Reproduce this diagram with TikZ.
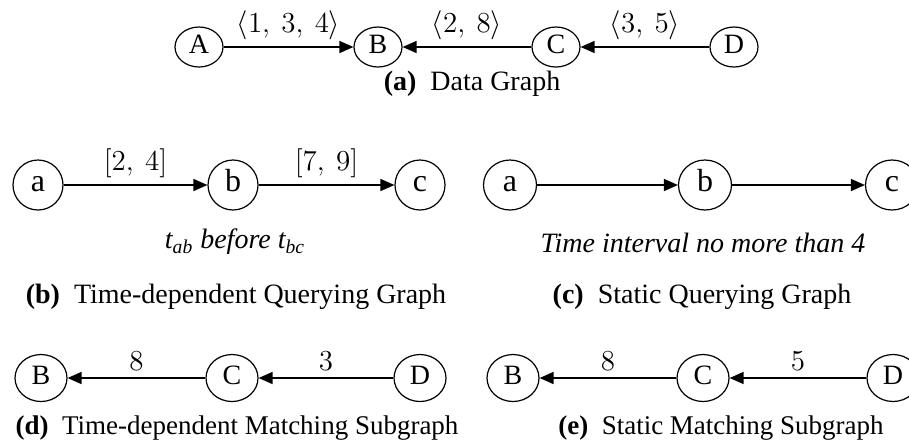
\RequirePackage{fix-cm}
\documentclass[tikz,border=0pt]{standalone}
\usepackage{fontspec}
\setmainfont{Liberation Serif}
\usepackage{tikz}
\usetikzlibrary{shapes.geometric, arrows.meta}

\tikzset{
    vert/.style={ellipse, draw, line width=0.6pt, inner sep=0pt, text height=0.68em, text depth=0pt},
    edge/.style={-{Triangle[length=7pt, width=6pt]}, line width=0.75pt},
    wt/.style={midway, above, font=\fontsize{14.5}{16}\selectfont},
    subcap/.style={font=\fontsize{14}{16}\selectfont},
    note/.style={font=\fontsize{14}{16}\selectfont\itshape}
}

\begin{document}
\begin{tikzpicture}[x=0.5pt, y=-0.5pt]
        \useasboundingbox (0, 0) rectangle (909, 446);

        % (a) data graph
        \begin{scope}[every node/.append style={minimum width=24pt, minimum height=20pt, font=\fontsize{14}{16}\selectfont}]
        \node[vert] (dA) at (199, 47) {A};
        \node[vert] (dB) at (378, 47) {B};
        \node[vert] (dC) at (556, 47) {C};
        \node[vert] (dD) at (734, 47) {D};
        \end{scope}
        \draw[edge] (dA) to node[wt] {$\langle 1,\:3,\:4\rangle$} (dB);
        \draw[edge] (dC) to node[wt] {$\langle 2,\:8\rangle$} (dB);
        \draw[edge] (dD) to node[wt] {$\langle 3,\:5\rangle$} (dC);
        \node[subcap] (capa) at (472, 84) {\textbf{(a)}\enspace Data Graph};

        % (b) time-dependent querying graph
        \begin{scope}[every node/.append style={minimum width=25pt, minimum height=25pt, font=\fontsize{16}{18}\selectfont}]
        \node[vert] (qa) at (38, 185) {a};
        \node[vert] (qb) at (233, 185) {b};
        \node[vert] (qc) at (420, 185) {c};
        \end{scope}
        \draw[edge] (qa) to node[wt] {$[2,\:4]$} (qb);
        \draw[edge] (qb) to node[wt] {$[7,\:9]$} (qc);
        \node[note] (nb) at (235, 242) {t\textsubscript{ab} before t\textsubscript{bc}};
        \node[subcap] (capb) at (236, 297) {\textbf{(b)}\enspace Time-dependent Querying Graph};

        % (c) static querying graph
        \begin{scope}[every node/.append style={minimum width=26.5pt, minimum height=25pt, font=\fontsize{16}{18}\selectfont}]
        \node[vert] (sa) at (510, 185) {a};
        \node[vert] (sb) at (705, 185) {b};
        \node[vert] (sc) at (892, 185) {c};
        \end{scope}
        \draw[edge] (sa) to (sb);
        \draw[edge] (sb) to (sc);
        \node[note] (nc) at (703, 243) {Time interval no more than 4};
        \node[subcap] (capc) at (702, 297) {\textbf{(c)}\enspace Static Querying Graph};

        % (d) time-dependent matching subgraph
        \begin{scope}[every node/.append style={minimum width=26pt, minimum height=23.5pt, font=\fontsize{14}{16}\selectfont}]
        \node[vert] (mB) at (41, 378) {B};
        \node[vert] (mC) at (232, 378) {C};
        \node[vert] (mD) at (420, 378) {D};
        \end{scope}
        \draw[edge] (mC) to node[wt] {$8$} (mB);
        \draw[edge] (mD) to node[wt] {$3$} (mC);
        \node[subcap, font=\fontsize{13.5}{16}\selectfont] (capd) at (237, 428) {\textbf{(d)}\enspace Time-dependent Matching Subgraph};

        % (e) static matching subgraph
        \begin{scope}[every node/.append style={minimum width=26pt, minimum height=23.5pt, font=\fontsize{14}{16}\selectfont}]
        \node[vert] (tB) at (513, 378) {B};
        \node[vert] (tC) at (703, 378) {C};
        \node[vert] (tD) at (893, 378) {D};
        \end{scope}
        \draw[edge] (tC) to node[wt] {$8$} (tB);
        \draw[edge] (tD) to node[wt] {$5$} (tC);
        \node[subcap, font=\fontsize{13.5}{16}\selectfont] (cape) at (721, 428) {\textbf{(e)}\enspace Static Matching Subgraph};
\end{tikzpicture}
\end{document}
